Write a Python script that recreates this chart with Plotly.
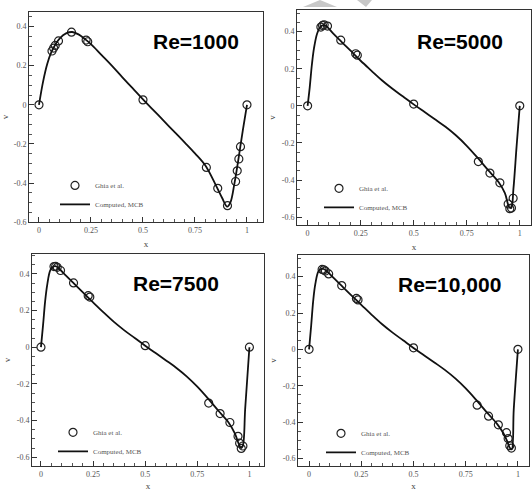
import plotly.graph_objects as go

# Ghia et al. reference points (v along horizontal centerline)
ghia_x = [0.0, 0.0625, 0.0703, 0.0781, 0.0938, 0.1563, 0.2266, 0.2344, 0.5,
          0.8047, 0.8594, 0.9063, 0.9453, 0.9531, 0.9609, 0.9688, 1.0]
ghia_re1000 = [0.0, 0.27485, 0.29012, 0.30353, 0.32627, 0.37095, 0.33075, 0.32235, 0.02526,
               -0.31966, -0.42665, -0.51550, -0.39188, -0.33714, -0.27669, -0.21388, 0.0]
ghia_re5000 = [0.0, 0.42447, 0.43329, 0.43648, 0.42951, 0.35368, 0.28066, 0.27280, 0.00945,
               -0.30018, -0.36214, -0.41442, -0.52876, -0.55408, -0.55069, -0.49774, 0.0]
ghia_re7500 = [0.0, 0.43979, 0.44030, 0.43564, 0.41824, 0.35060, 0.28117, 0.27348, 0.00824,
               -0.30448, -0.36213, -0.41050, -0.48590, -0.52347, -0.55216, -0.53858, 0.0]
ghia_re10000 = [0.0, 0.43983, 0.43733, 0.43124, 0.41487, 0.35070, 0.28003, 0.27224, 0.00831,
                -0.30719, -0.36737, -0.41496, -0.45863, -0.49099, -0.52987, -0.54302, 0.0]

# Computed (MCB) curves
comp_x_1000 = [0.0, 0.02, 0.04, 0.06, 0.08, 0.10, 0.13, 0.16, 0.19, 0.22, 0.25, 0.30, 0.35,
               0.40, 0.45, 0.50, 0.55, 0.60, 0.65, 0.70, 0.75, 0.80, 0.85, 0.88, 0.905,
               0.92, 0.94, 0.96, 0.98, 1.0]
comp_v_1000 = [0.0, 0.12, 0.21, 0.27, 0.31, 0.34, 0.365, 0.372, 0.36, 0.337, 0.31, 0.255, 0.20,
               0.142, 0.085, 0.028, -0.027, -0.082, -0.137, -0.192, -0.248, -0.31, -0.41, -0.475,
               -0.52, -0.50, -0.40, -0.27, -0.13, 0.0]

comp_x_5000 = [0.0, 0.01, 0.02, 0.03, 0.045, 0.06, 0.075, 0.09, 0.12, 0.16, 0.20, 0.25, 0.30,
               0.35, 0.40, 0.45, 0.50, 0.55, 0.60, 0.65, 0.70, 0.75, 0.80, 0.85, 0.90, 0.93,
               0.95, 0.96, 0.97, 0.985, 1.0]
comp_v_5000 = [0.0, 0.10, 0.22, 0.31, 0.39, 0.425, 0.435, 0.428, 0.39, 0.345, 0.30, 0.243, 0.19,
               0.138, 0.092, 0.05, 0.008, -0.032, -0.072, -0.113, -0.16, -0.215, -0.278, -0.345,
               -0.41, -0.47, -0.545, -0.55, -0.45, -0.22, 0.0]

comp_x_7500 = [0.0, 0.01, 0.02, 0.03, 0.045, 0.06, 0.07, 0.09, 0.12, 0.16, 0.20, 0.25, 0.30,
               0.35, 0.40, 0.45, 0.50, 0.55, 0.60, 0.65, 0.70, 0.75, 0.80, 0.85, 0.90, 0.93,
               0.95, 0.96, 0.968, 0.98, 1.0]
comp_v_7500 = [0.0, 0.12, 0.25, 0.34, 0.42, 0.44, 0.442, 0.425, 0.39, 0.345, 0.30, 0.245, 0.19,
               0.138, 0.092, 0.05, 0.008, -0.032, -0.072, -0.113, -0.16, -0.215, -0.278, -0.345,
               -0.41, -0.47, -0.53, -0.55, -0.54, -0.33, 0.0]

comp_x_10000 = [0.0, 0.01, 0.02, 0.03, 0.045, 0.06, 0.07, 0.09, 0.12, 0.16, 0.20, 0.25, 0.30,
                0.35, 0.40, 0.45, 0.50, 0.55, 0.60, 0.65, 0.70, 0.75, 0.80, 0.85, 0.90, 0.93,
                0.95, 0.96, 0.97, 0.98, 1.0]
comp_v_10000 = [0.0, 0.13, 0.27, 0.36, 0.43, 0.443, 0.442, 0.425, 0.39, 0.345, 0.30, 0.245, 0.19,
                0.138, 0.092, 0.05, 0.008, -0.032, -0.072, -0.113, -0.16, -0.215, -0.278, -0.345,
                -0.41, -0.46, -0.51, -0.54, -0.55, -0.33, 0.0]

panel_titles = ["Re=1000", "Re=5000", "Re=7500", "Re=10,000"]
tick_vals_x = [0, 0.25, 0.5, 0.75, 1]
tick_text_x = ["0", "0.25", "0.5", "0.75", "1"]
tick_vals_y = [-0.6, -0.4, -0.2, 0, 0.2, 0.4]
tick_text_y = ["-0.6", "-0.4", "-0.2", "0", "0.2", "0.4"]

W, H = 532, 491

def px_x(p):
    return p / W

def px_y(p):
    return 1 - p / H

# panel geometry in pixels: left, right, top, bottom, xrange, yrange
panels = [
    dict(l=29, r=263, t=12, b=225, xr=[-0.048, 1.077], yr=[-0.6, 0.475],
         title_xy=(196, 42), leg_xy=(55, 173)),
    dict(l=297, r=531, t=10, b=228, xr=[-0.05, 1.053], yr=[-0.643, 0.517],
         title_xy=(460, 42), leg_xy=(319, 176)),
    dict(l=32, r=264, t=257, b=472, xr=[-0.043, 1.07], yr=[-0.649, 0.509],
         title_xy=(176, 287), leg_xy=(53, 423)),
    dict(l=298, r=529, t=258, b=472, xr=[-0.053, 1.053], yr=[-0.643, 0.52],
         title_xy=(449, 288), leg_xy=(321, 424)),
]

ghia_sets = [ghia_re1000, ghia_re5000, ghia_re7500, ghia_re10000]
comp_sets = [(comp_x_1000, comp_v_1000), (comp_x_5000, comp_v_5000),
             (comp_x_7500, comp_v_7500), (comp_x_10000, comp_v_10000)]

fig = go.Figure()
tick_font = dict(family="Liberation Serif", size=8, color="#555555")
layout = dict(width=W, height=H, margin=dict(l=0, r=0, t=0, b=0),
              paper_bgcolor="white", plot_bgcolor="white", showlegend=True)
annotations = []
shapes = []

for i, p in enumerate(panels):
    n = "" if i == 0 else str(i + 1)
    xa, ya = "x" + n, "y" + n
    leg = "legend" + n
    cx, cv = comp_sets[i]
    fig.add_trace(go.Scatter(x=ghia_x, y=ghia_sets[i], mode="markers", name="Ghia et al.",
                             xaxis=xa, yaxis=ya, legend=leg,
                             marker=dict(symbol="circle-open", size=8, color="#222222",
                                         line=dict(width=1.2, color="#222222"))))
    fig.add_trace(go.Scatter(x=cx, y=cv, mode="lines", name="Computed, MCB",
                             xaxis=xa, yaxis=ya, legend=leg, line_shape="spline",
                             line=dict(color="#111111", width=1.8)))
    layout["xaxis" + n] = dict(
        domain=[px_x(p["l"]), px_x(p["r"])], range=p["xr"], anchor=ya,
        tickvals=tick_vals_x, ticktext=tick_text_x, tickfont=tick_font,
        ticks="inside", ticklen=5, tickwidth=1, tickcolor="#333",
        minor=dict(dtick=0.05, tick0=0, ticks="inside", ticklen=3, tickcolor="#555"),
        showline=True, linecolor="#333", linewidth=1, mirror=True, showgrid=False,
        zeroline=False, title=dict(text="x", font=dict(family="Liberation Serif", size=9, color="#444"),
                                    standoff=6))
    layout["yaxis" + n] = dict(
        domain=[px_y(p["b"]), px_y(p["t"])], range=p["yr"], anchor=xa,
        tickvals=tick_vals_y, ticktext=tick_text_y, tickfont=tick_font,
        ticks="inside", ticklen=5, tickwidth=1, tickcolor="#333",
        minor=dict(dtick=0.05, tick0=0, ticks="inside", ticklen=3, tickcolor="#555"),
        showline=True, linecolor="#333", linewidth=1, mirror=True, showgrid=False,
        zeroline=False, title=dict(text="v", font=dict(family="Liberation Serif", size=9, color="#444"),
                                    standoff=4))
    layout[leg] = dict(x=px_x(p["leg_xy"][0]), y=px_y(p["leg_xy"][1]), xanchor="left",
                       yanchor="top", bgcolor="rgba(0,0,0,0)",
                       font=dict(family="Liberation Serif", size=7, color="#555"),
                       tracegroupgap=0, itemwidth=30)
    annotations.append(dict(text="<b>%s</b>" % panel_titles[i], xref="paper", yref="paper",
                            x=px_x(p["title_xy"][0]), y=px_y(p["title_xy"][1]),
                            xanchor="center", yanchor="middle", showarrow=False,
                            font=dict(family="Liberation Sans", size=21, color="black")))

# faint grey watermark triangles at the top
shapes.append(dict(type="path", xref="paper", yref="paper",
                   path="M %f %f L %f %f L %f %f Z" % (px_x(303), px_y(7), px_x(320), px_y(0),
                                                      px_x(337), px_y(7)),
                   fillcolor="#c8c8c8", line=dict(width=0)))
shapes.append(dict(type="path", xref="paper", yref="paper",
                   path="M %f %f L %f %f L %f %f Z" % (px_x(357), px_y(0), px_x(372), px_y(0),
                                                      px_x(366), px_y(7)),
                   fillcolor="#c8c8c8", line=dict(width=0)))

layout["annotations"] = annotations
layout["shapes"] = shapes
fig.update_layout(**layout)
fig.write_html("out.html")
